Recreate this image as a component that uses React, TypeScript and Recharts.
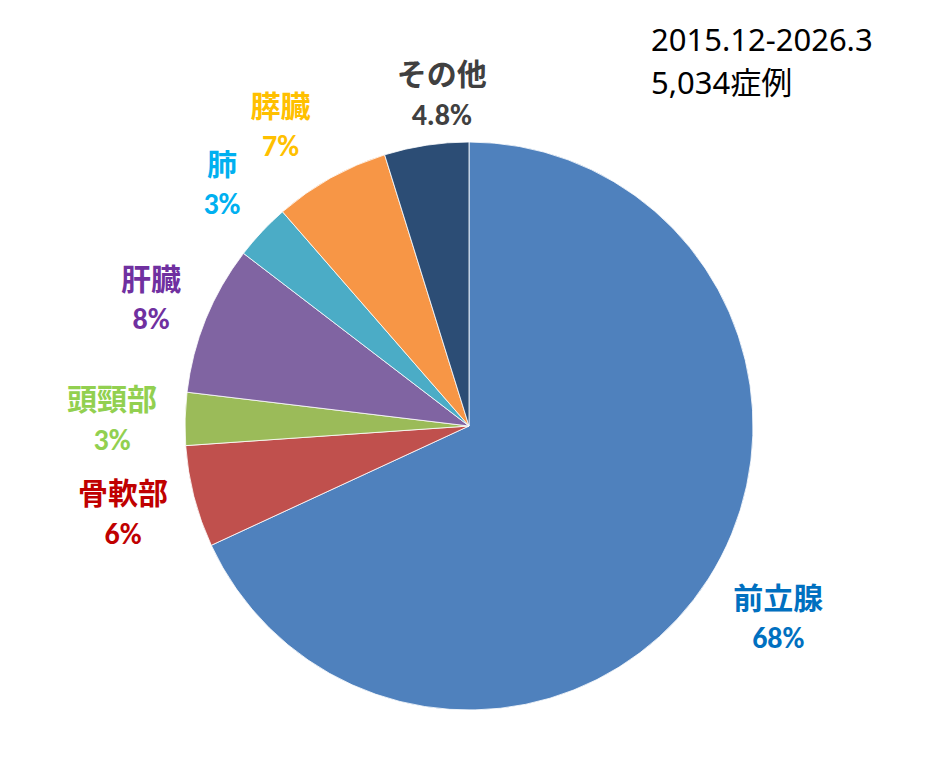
import React from "react";
import { PieChart, Pie, Cell } from "recharts";

const categories = ["前立腺", "骨軟部", "頭頸部", "肝臓", "肺", "膵臓", "その他"];
const shares = [68.1, 5.8, 3.0, 8.5, 3.2, 6.6, 4.8];
const shareLabels = ["68%", "6%", "3%", "8%", "3%", "7%", "4.8%"];
const periodText = "2015.12-2026.3";
const caseText = "5,034症例";

const sliceColors = ["#4F81BD", "#C0504D", "#9BBB59", "#8064A2", "#4BACC6", "#F79646", "#2C4D75"];
const labelColors = ["#0070C0", "#C00000", "#92D050", "#7030A0", "#00B0F0", "#FFC000", "#404040"];
const labelNudge: Record<string, [number, number]> = {
  前立腺: [11, 0],
  骨軟部: [-3, -2],
  頭頸部: [-3, 1],
  肝臓: [10, 5],
  肺: [11, -1],
  膵臓: [-16, 8],
  その他: [26, 17],
};

const data = categories.map((name, i) => ({ name, value: shares[i], pct: shareLabels[i], idx: i }));

const RAD = Math.PI / 180;
const FONT = "Carlito, Calibri, 'Noto Sans', 'Noto Sans CJK JP', sans-serif";

function renderLabel(props: any) {
  const { cx, cy, midAngle, outerRadius, payload } = props;
  const p = payload && payload.name !== undefined ? payload : props;
  const r = outerRadius + 70;
  const nudge = labelNudge[p.name] || [0, 0];
  const x = cx + r * Math.cos(-midAngle * RAD) + nudge[0];
  const y = cy + r * Math.sin(-midAngle * RAD) + nudge[1];
  const color = labelColors[p.idx];
  return (
    <g>
      <text x={x} y={y - 21} textAnchor="middle" dominantBaseline="central" fill={color}
        style={{ fontFamily: "'Noto Sans CJK JP', sans-serif", fontWeight: 700, fontSize: 30 }}>
        {p.name}
      </text>
      <text x={x} y={y + 21} textAnchor="middle" dominantBaseline="central" fill={color}
        style={{ fontFamily: FONT, fontWeight: 700, fontSize: 30 }}>
        {p.pct}
      </text>
    </g>
  );
}

export default function App() {
  return (
    <div style={{ position: "relative", width: 915, height: 745 }}>
      <PieChart width={915} height={745} margin={{ top: 0, right: 0, bottom: 0, left: 0 }}>
        <Pie
          data={data}
          dataKey="value"
          nameKey="name"
          cx={461}
          cy={418}
          outerRadius={284}
          startAngle={90}
          endAngle={-270}
          stroke="#ffffff"
          strokeWidth={0.8}
          label={renderLabel}
          labelLine={false}
          isAnimationActive={false}
        >
          {data.map((d, i) => (
            <Cell key={d.name} fill={sliceColors[i]} />
          ))}
        </Pie>
      </PieChart>
      <div
        style={{
          position: "absolute",
          left: 643,
          top: 10,
          fontFamily: "'Noto Sans', 'Noto Sans CJK JP', sans-serif",
          fontSize: 31,
          lineHeight: "43px",
          color: "#000",
          whiteSpace: "nowrap",
        }}
      >
        <div>{periodText}</div>
        <div>{caseText}</div>
      </div>
    </div>
  );
}
